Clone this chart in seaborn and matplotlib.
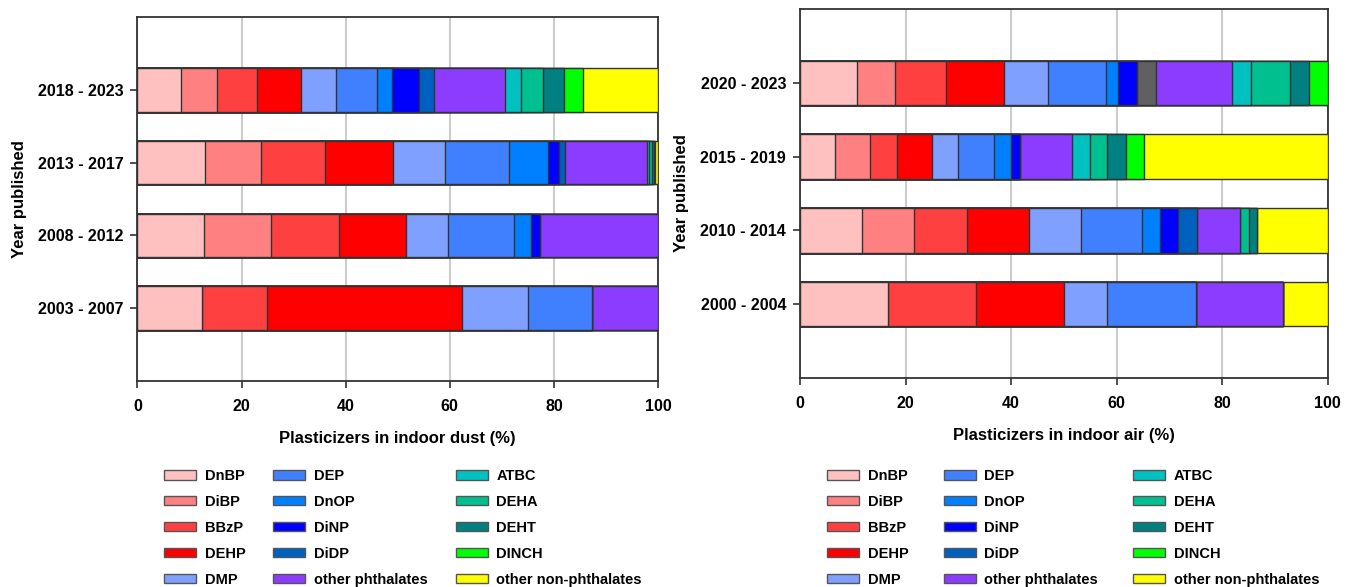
import numpy as np
import pandas as pd
import matplotlib
matplotlib.use("Agg")
import matplotlib.pyplot as plt
from matplotlib.patches import Patch
import seaborn as sns

sns.set_theme(style="white")
plt.rcParams["font.family"] = ["Liberation Sans", "DejaVu Sans"]
plt.rcParams["font.weight"] = "bold"
plt.rcParams["text.color"] = "black"
plt.rcParams["axes.labelcolor"] = "black"
plt.rcParams["xtick.color"] = "black"
plt.rcParams["ytick.color"] = "black"

# ---------------- data ----------------
compounds = ["DnBP", "DiBP", "BBzP", "DEHP", "DMP",
             "DEP", "DnOP", "DiNP", "DiDP", "other phthalates",
             "ATBC", "DEHA", "DEHT", "DINCH", "other non-phthalates"]

colors = {
    "DnBP": "#FFC0C0", "DiBP": "#FF8080", "BBzP": "#FF4040", "DEHP": "#FF0000",
    "DMP": "#80A0FF", "DEP": "#4080FF", "DnOP": "#0080FF", "DiNP": "#0000FF",
    "DiDP": "#0060C0", "unspecified": "#606060", "other phthalates": "#8C3CFF",
    "ATBC": "#00C0C0", "DEHA": "#00C090", "DEHT": "#008080", "DINCH": "#00FF00",
    "other non-phthalates": "#FFFF00",
}

# Indoor dust (%)
dust_periods = ["2018 - 2023", "2013 - 2017", "2008 - 2012", "2003 - 2007"]
dust_DnBP = [8.3, 13.0, 12.8, 12.4]
dust_DiBP = [6.9, 10.7, 12.9, 0.0]
dust_BBzP = [7.8, 12.3, 13.0, 12.5]
dust_DEHP = [8.4, 13.0, 12.9, 37.5]
dust_DMP = [6.8, 10.1, 8.0, 12.6]
dust_DEP = [7.8, 12.3, 12.8, 12.3]
dust_DnOP = [2.8, 7.4, 3.2, 0.0]
dust_DiNP = [5.2, 2.1, 1.8, 0.0]
dust_DiDP = [3.0, 1.3, 0.0, 0.0]
dust_other_phth = [13.6, 15.6, 22.6, 12.7]
dust_ATBC = [3.1, 0.5, 0.0, 0.0]
dust_DEHA = [4.2, 0.5, 0.0, 0.0]
dust_DEHT = [4.1, 0.4, 0.0, 0.0]
dust_DINCH = [3.6, 0.3, 0.0, 0.0]
dust_other_nonphth = [14.4, 0.5, 0.0, 0.0]

# Indoor air (%)
air_periods = ["2020 - 2023", "2015 - 2019", "2010 - 2014", "2000 - 2004"]
air_DnBP = [10.9, 6.6, 11.7, 16.7]
air_DiBP = [7.2, 6.7, 9.9, 0.0]
air_BBzP = [9.6, 5.0, 10.0, 16.6]
air_DEHP = [10.9, 6.7, 11.8, 16.7]
air_DMP = [8.4, 5.0, 9.9, 8.2]
air_DEP = [10.9, 6.7, 11.6, 16.9]
air_DnOP = [2.4, 3.3, 3.3, 0.0]
air_DiNP = [3.6, 1.7, 3.5, 0.0]
air_DiDP = [0.0, 0.0, 3.5, 0.0]
air_unspecified = [3.6, 0.0, 0.0, 0.0]
air_other_phth = [14.4, 9.9, 8.2, 16.5]
air_ATBC = [3.6, 3.4, 0.0, 0.0]
air_DEHA = [7.3, 3.2, 1.6, 0.0]
air_DEHT = [3.6, 3.6, 1.7, 0.0]
air_DINCH = [3.6, 3.3, 0.0, 0.0]
air_other_nonphth = [0.0, 34.9, 13.3, 8.4]

dust = pd.DataFrame({
    "DnBP": dust_DnBP, "DiBP": dust_DiBP, "BBzP": dust_BBzP, "DEHP": dust_DEHP,
    "DMP": dust_DMP, "DEP": dust_DEP, "DnOP": dust_DnOP, "DiNP": dust_DiNP,
    "DiDP": dust_DiDP, "other phthalates": dust_other_phth, "ATBC": dust_ATBC,
    "DEHA": dust_DEHA, "DEHT": dust_DEHT, "DINCH": dust_DINCH,
    "other non-phthalates": dust_other_nonphth,
}, index=dust_periods)

air = pd.DataFrame({
    "DnBP": air_DnBP, "DiBP": air_DiBP, "BBzP": air_BBzP, "DEHP": air_DEHP,
    "DMP": air_DMP, "DEP": air_DEP, "DnOP": air_DnOP, "DiNP": air_DiNP,
    "DiDP": air_DiDP, "unspecified": air_unspecified,
    "other phthalates": air_other_phth, "ATBC": air_ATBC, "DEHA": air_DEHA,
    "DEHT": air_DEHT, "DINCH": air_DINCH, "other non-phthalates": air_other_nonphth,
}, index=air_periods)


def stacked_barh(ax, table, xlabel):
    cum = table.cumsum(axis=1)
    cols = list(table.columns)
    # draw cumulative totals from the last series back to the first,
    # so each earlier series covers the start of the later ones
    for col in reversed(cols):
        sns.barplot(x=cum[col].values, y=list(table.index), orient="h",
                    color=colors[col], saturation=1, width=0.6,
                    edgecolor="#333333", linewidth=1.0, ax=ax, zorder=3)
    ax.set_xlim(0, 100)
    ax.set_ylim(4, -1)
    ax.set_xticks([0, 20, 40, 60, 80, 100])
    ax.xaxis.grid(True, color="#cccccc", linewidth=1.5, zorder=0)
    ax.set_axisbelow(True)
    for s in ax.spines.values():
        s.set_visible(True)
        s.set_color("#333333")
        s.set_linewidth(1.3)
    ax.tick_params(axis="both", which="both", direction="out", length=5,
                   width=1.2, color="#333333", labelcolor="black",
                   labelsize=11.5, bottom=True, left=True)
    ax.tick_params(axis="x", pad=8)
    ax.tick_params(axis="y", pad=5)
    for lab in ax.get_xticklabels() + ax.get_yticklabels():
        lab.set_fontweight("bold")
    ax.set_xlabel(xlabel, fontsize=12, fontweight="bold", labelpad=12)
    ax.set_ylabel("Year published", fontsize=12, fontweight="bold", labelpad=8)


fig = plt.figure(figsize=(13.49, 5.87), dpi=100)
ax1 = fig.add_axes([0.1019, 0.3509, 0.3859, 0.6201])
ax2 = fig.add_axes([0.5930, 0.3560, 0.3912, 0.6286])

stacked_barh(ax1, dust, "Plasticizers in indoor dust (%)")
stacked_barh(ax2, air, "Plasticizers in indoor air (%)")

handles = [Patch(facecolor=colors[c], edgecolor="#555555", linewidth=1.0, label=c)
           for c in compounds]
for x0, cspace in ((0.1216, 1.9), (0.613, 2.4)):
    fig.legend(handles=handles, loc="upper left", bbox_to_anchor=(x0, 0.201),
               ncol=3, frameon=False, borderpad=0, borderaxespad=0,
               handlelength=2.2, handleheight=0.6, handletextpad=0.6,
               labelspacing=0.82, columnspacing=cspace,
               prop={"size": 10.5, "weight": "bold"})

fig.savefig("out.png", dpi=100)
